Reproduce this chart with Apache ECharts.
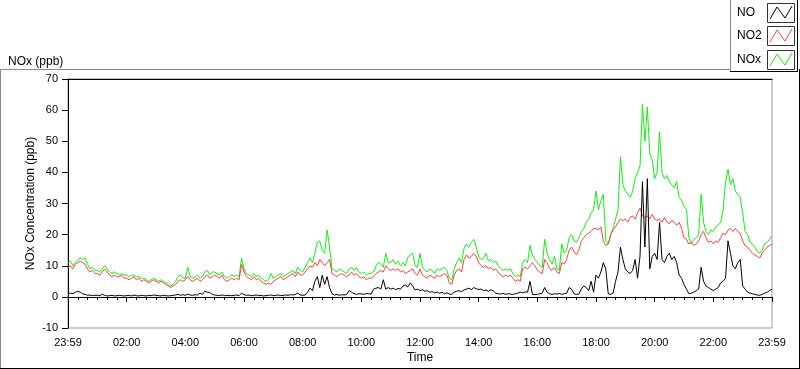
<!DOCTYPE html>
<html><head><meta charset="utf-8">
<script src="https://cdn.jsdelivr.net/npm/echarts@6/dist/echarts.min.js"></script>
<style>html,body{margin:0;padding:0;background:#fff}#c{width:800px;height:369px}</style>
</head><body><div id="c"></div>
<script>
// sampling step of the readings (minutes after the 23:59 start)
const sampleMinutes = 5;
const seriesNames = ['NO', 'NO2', 'NOx'];
const yTickValues = [-10, 0, 10, 20, 30, 40, 50, 60, 70];
const xTickLabels = ['23:59','02:00','04:00','06:00','08:00','10:00','12:00','14:00','16:00','18:00','20:00','22:00','23:59'];

const no2 = [
 9.5,10,9,10.5,11,11.5,11,10.5,9,8,8.5,7.5,
 7.5,7,8,9,8,7,6.5,7,6.5,6.5,7,6,
 6,5.5,6,6.5,5.5,6,5,5.5,5,4.5,5,5.5,
 5,4.5,5,4.5,4,3.5,3,3.5,4,5,5.5,5,
 5.5,6.5,5.5,5,5.5,6,5,5.5,6.5,7,6,6.5,
 7,6.5,6,7,5.5,5,5.5,6,5.5,6,5.5,10.5,
 8,6.5,6,5.5,6.5,5.5,6,5,4.5,4,4.5,4,
 5,5.5,6,6.5,5.5,6,6.5,7,7.5,6.5,8,7,
 7,8,9,10,9.5,11,10,12,11,10,11,12,
 7.5,7,6.5,7,7.5,7,6.5,7,8,7,7.5,6.5,
 6,6.5,5.5,6,6,6.5,7.5,8,8.5,8,10,9,
 8.5,9,8.5,9,8,8.5,7.5,8,8.5,9,7.5,7,
 9,7,6.5,6,7,6.5,6,7,6.5,7,7.5,7,
 4.5,4,7,8.5,9,8,12,13.5,12.5,13,14,13,
 11,10,9.5,10,9,9.5,8.5,9,8,7,6.5,7,
 6.5,7,6,5,5.5,5,9,9.5,9,10,11,10,
 8.5,8,7.5,12,11,9,8.5,9.5,8,7.5,11,10.5,
 12,15,16,14.5,13.5,15,18,19,20,20.5,21,22,
 22,21.5,22.5,18,16.5,17,20,21.5,22.5,24,25,24.5,
 25,24,25.5,26,25,27,28.5,26,25.5,26,25,26.5,
 25,24.5,25,24,25.5,24,23.5,24.5,24,23,24,22,
 19,18.5,17,17.5,16.5,17,18,20,21,19,17.5,18,
 17,18,17.5,19,20.5,20,21.5,22,21,22,21,20.5,
 18,16.5,16,15,14,13.5,13,12.5,14,15,16,16.5,
 17
];
const nox = [
 11,11.5,10,11,12,12.5,12,12.5,10.5,9,9.5,8.5,
 8.5,8,9,10,9,8,7.5,8,7.5,7,7.5,7,
 7,6.5,7,7,6.5,6.5,6,6,5.5,5,5.5,6,
 5.5,5,5.5,5,4.5,4,3.5,4,5,6.5,7,6,
 6,9.5,6.5,6,6.5,7,6,6.5,8,8.5,7,8,
 8,7.5,7,8,6.5,6,6.5,7,6.5,7,6.5,12.5,
 9,7.5,7,6.5,7.5,6.5,7,6,5.5,5,5.5,7.5,
 6,6.5,7,7.5,6.5,7,7.5,8,8.5,7.5,9.5,8.5,
 8,9.5,11,12.5,11,14,17.5,18,15,14,21.5,16,
 9,8.5,8,9,8.5,8,7.5,9,9.5,8.5,9.5,8,
 7.5,8,7,7.5,7.5,8,10,11,10.5,9.5,14,11,
 11,12,10.5,11.5,10,11,10,12.5,13.5,14,10,9.5,
 14,9.5,8.5,8,9,8.5,7.5,9,8.5,9,9.5,8.5,
 6,5.5,9,11,12.5,11,15.5,17,16,17.5,18.5,16,
 13,12,12.5,14,11.5,12,11,11.5,10,9,8.5,9,
 8.5,9,7.5,6.5,7,6.5,11,12,11,16.5,13.5,12,
 11,10,9.5,18.5,14,12,10.5,13,9,8.5,17,14,
 15,19,20,18,17.5,19,21,22,24,25,27,28,
 34,28,31,33,18,17,20,22,25,28,45,36,
 34,33,32,34,38,40,42,62,50,61,46,44,
 38,40,53,40,38,39,37,36,35,37,32,31,
 29,28,19,17,18.5,19,20,33,24,21,20,21.5,
 21,22.5,23,24,28,37,41,36,38,34,33,32,
 27,21,20,17.5,17,16,14.5,14,15,17,17.5,18.5,
 19.5
];
const no = [
 1,1.2,1,1.5,1.8,1.5,1,0.8,0.5,0.6,0.4,0.5,
 0.5,0.4,0.8,0.5,0.3,0.4,0.5,0.3,0.4,0.5,0.4,0.3,
 0.4,0.5,0.3,0.6,0.4,0.3,0.5,0.4,0.3,0.5,0.4,0.6,
 0.5,0.4,0.3,0.5,0.4,0.3,0.4,0.5,0.6,0.8,0.5,0.7,
 0.5,0.9,0.6,0.5,0.7,0.6,1.2,0.8,1.8,1.5,1.4,0.8,
 0.6,0.5,0.4,0.6,0.5,0.4,0.5,0.4,0.5,0.6,0.4,1.2,
 0.7,0.5,0.6,0.4,0.5,0.6,0.4,0.5,0.3,0.4,0.5,0.6,
 0.4,0.5,0.6,0.4,0.5,0.6,0.5,0.7,0.6,0.8,1.2,0.6,
 0.5,0.6,1.5,2.8,2,5,6.5,3,7,4,6.5,3,
 1,0.6,0.8,0.5,0.7,0.6,0.8,2,1.5,1,0.8,1,
 1,0.8,1.1,1,0.9,2.5,2.8,3,2.5,5.5,2.5,3,
 2.5,2.8,2.3,2.7,2.5,3.5,3.8,3.2,4.5,3.5,2.2,2.5,
 2,2.3,1.8,2,1.5,1.7,1.3,1.5,1.2,1.5,1,1.3,
 0.9,0.8,1.5,1.8,2,1.7,2.2,2.5,2.8,2.3,3,2.6,
 2.4,2.5,2,2.2,1.8,2.3,1.9,1.2,1,0.9,1.1,0.8,
 1,0.9,0.8,1,1.2,1.5,1.3,1.6,1.5,5,0.8,0.7,
 0.8,1,1.2,3,1.5,1,0.8,1,0.9,1.1,0.8,1,
 1.2,3,2.5,1,0.8,0.9,2.5,3.5,3,2,5,1.5,
 7,6,8,11,9,1,0.8,1.2,5,8,16,12,
 9,8,7.5,8.5,12,6,13,37,16,38,9,13,
 14,12,24,12,11,13,14,12,13,11,7,6,
 4,2.5,1,1.2,1.5,2,2.5,9.5,5,3.5,3,2.5,
 2,2.5,3,4.5,5,6,18,14,10,9,11,12,
 3.5,2.5,1.5,1.2,1,0.8,0.6,0.5,0.8,1.2,1.5,2,
 2.5
];

const FONT = 'Liberation Sans';
const GREEN = '#10f010';
const RED = '#ff4040';
const toPairs = arr => arr.map((v, i) => [i * sampleMinutes, v]);

const chart = echarts.init(document.getElementById('c'), null, {renderer: 'canvas'});

function legendItems() {
  const colors = ['#000000', RED, GREEN];
  const rowY = [3, 26, 50];
  const els = [
    {type: 'rect', shape: {x: 730, y: 0, width: 67, height: 72}, style: {fill: '#fff', stroke: null}, z: 10},
    {type: 'line', shape: {x1: 730.5, y1: 0, x2: 730.5, y2: 72}, style: {stroke: '#8a8a8a', lineWidth: 1}, z: 11},
    {type: 'line', shape: {x1: 730, y1: 71.5, x2: 798, y2: 71.5}, style: {stroke: '#000', lineWidth: 1}, z: 11},
    {type: 'line', shape: {x1: 797.5, y1: 0, x2: 797.5, y2: 72}, style: {stroke: '#000', lineWidth: 1}, z: 11}
  ];
  seriesNames.forEach((n, k) => {
    const y = rowY[k];
    els.push({type: 'text', x: 737, y: y + 10, style: {text: n, font: '12px ' + FONT, fill: '#000', verticalAlign: 'middle'}, z: 11});
    els.push({type: 'rect', shape: {x: 767.5, y: y + 0.5, width: 27, height: 19}, style: {fill: '#fff', stroke: '#333', lineWidth: 1}, z: 11});
    els.push({type: 'polyline', shape: {points: [[770, y + 16], [777, y + 4], [785, y + 15], [792, y + 3]]}, style: {stroke: colors[k], lineWidth: 1, fill: null}, z: 12});
  });
  return els;
}

const option = {
  animation: false,
  backgroundColor: '#fff',
  textStyle: {fontFamily: FONT},
  title: {text: 'NOx (ppb)', left: 3, top: 51, textStyle: {fontSize: 12, fontWeight: 'normal', color: '#000', fontFamily: FONT}},
  grid: {left: 68, right: 28, top: 79, bottom: 40, show: true, borderColor: '#999', borderWidth: 1, backgroundColor: '#fff'},
  xAxis: [{
    type: 'value', min: 0, max: 1440, interval: 120,
    name: 'Time', nameLocation: 'middle', nameGap: 24, nameMoveOverlap: false,
    nameTextStyle: {fontSize: 12, color: '#000', fontFamily: FONT},
    axisLine: {show: true, lineStyle: {color: '#000', width: 1}},
    axisTick: {show: true, length: 5, lineStyle: {color: '#000'}},
    minorTick: {show: true, splitNumber: 6, length: 3, lineStyle: {color: '#000'}},
    splitLine: {show: false},
    axisLabel: {show: true, margin: 9, fontSize: 11, color: '#000', fontFamily: FONT, showMinLabel: true, showMaxLabel: true,
      formatter: v => xTickLabels[Math.round(v / 120)]}
  }, {
    type: 'value', min: 0, max: 1440, position: 'top',
    axisLine: {show: true, lineStyle: {color: '#000', width: 1}},
    axisTick: {show: false}, axisLabel: {show: false}, splitLine: {show: false}
  }],
  yAxis: {
    type: 'value', min: yTickValues[0], max: yTickValues[yTickValues.length - 1], interval: 10,
    name: 'NOx Concentration (ppb)', nameLocation: 'middle', nameGap: 31, nameMoveOverlap: false,
    nameTextStyle: {fontSize: 12, color: '#000', fontFamily: FONT},
    axisLine: {show: true, lineStyle: {color: '#000', width: 1}},
    axisTick: {show: true, length: 6, lineStyle: {color: '#000'}},
    splitLine: {show: false},
    axisLabel: {margin: 10, fontSize: 11, color: '#000', fontFamily: FONT}
  },
  series: [
    {name: 'NOx', type: 'line', data: toPairs(nox), showSymbol: false, symbol: 'none', lineStyle: {color: GREEN, width: 1}, itemStyle: {color: GREEN}, z: 2},
    {name: 'NO2', type: 'line', data: toPairs(no2), showSymbol: false, symbol: 'none', lineStyle: {color: RED, width: 1}, itemStyle: {color: RED}, z: 3},
    {name: 'NO', type: 'line', data: toPairs(no), showSymbol: false, symbol: 'none', lineStyle: {color: '#000000', width: 1}, itemStyle: {color: '#000'}, z: 4}
  ],
  graphic: [
    {type: 'line', shape: {x1: 0, y1: 69.5, x2: 730, y2: 69.5}, style: {stroke: '#8a8a8a', lineWidth: 1}},
    {type: 'line', shape: {x1: 0.5, y1: 69, x2: 0.5, y2: 368}, style: {stroke: '#8a8a8a', lineWidth: 1}},
    {type: 'line', shape: {x1: 0, y1: 368.5, x2: 800, y2: 368.5}, style: {stroke: '#000', lineWidth: 1}},
    {type: 'line', shape: {x1: 799.5, y1: 69, x2: 799.5, y2: 369}, style: {stroke: '#000', lineWidth: 1}}
  ].concat(legendItems())
};
chart.setOption(option);
</script>
</body></html>
